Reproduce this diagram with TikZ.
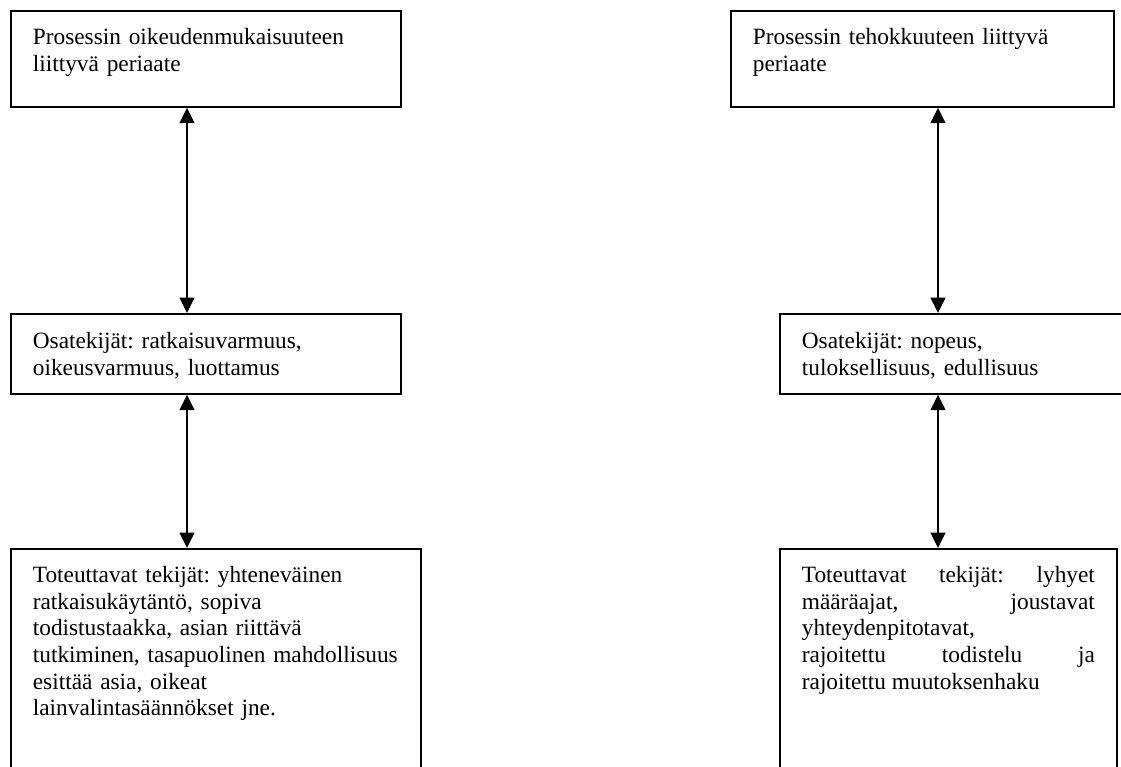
\documentclass[tikz,border=0pt]{standalone}
\usepackage{fontspec}
\setmainfont{Liberation Serif}
\usetikzlibrary{arrows.meta}
\hyphenpenalty=10000
\exhyphenpenalty=10000
\frenchspacing

\begin{document}
\begin{tikzpicture}[x=0.75pt, y=-0.75pt, line width=1.3pt,
    box/.style={draw, anchor=north west, inner xsep=16.5pt, inner ysep=0pt, align=left,
        font=\fontsize{17.5pt}{19.9pt}\selectfont},
    link/.style={{Triangle[length=11.5pt,width=11pt]}-{Triangle[length=11.5pt,width=11pt]}}]
        \useasboundingbox (0,0) rectangle (1121,767);
        \clip (0,0) rectangle (1121,767);
        \coordinate (la) at (187,0);
        \coordinate (ra) at (938,0);

        % left column
        \node[box, text width=259.5pt, text height=25.5pt, text depth=46.5pt] (L1) at (10,10)
            {Prosessin oikeudenmukaisuuteen\\liittyvä periaate};
        \node[box, text width=259.5pt, text height=26.25pt, text depth=33.75pt] (L2) at (10,313)
            {Osatekijät: ratkaisuvarmuus,\\oikeusvarmuus, luottamus};
        \node[box, text width=274.5pt, text height=25.5pt, text depth=225pt] (L3) at (10,548)
            {Toteuttavat tekijät: yhteneväinen\\ratkaisukäytäntö, sopiva\\todistustaakka, asian riittävä\\tutkiminen, tasapuolinen mahdollisuus\\esittää asia, oikeat\\lainvalintasäännökset jne.};

        % right column
        \node[box, text width=254.25pt, text height=25.5pt, text depth=46.5pt] (R1) at (730,10)
            {Prosessin tehokkuuteen liittyvä\\periaate};
        \node[box, text width=234pt, text height=26.25pt, text depth=33.75pt] (R2) at (779,313)
            {Osatekijät: nopeus,\\tuloksellisuus, edullisuus};
        \node[box, align=justify, text width=219.75pt, text height=25.5pt, text depth=225pt] (R3) at (779,548)
            {Toteuttavat tekijät: lyhyet\linebreak määräajat, joustavat\linebreak yhteydenpitotavat,\newline rajoitettu todistelu ja\linebreak rajoitettu muutoksenhaku};

        \draw[link] (L1.south -| la) -- (L2.north -| la);
        \draw[link] (L2.south -| la) -- (L3.north -| la);
        \draw[link] (R1.south -| ra) -- (R2.north -| ra);
        \draw[link] (R2.south -| ra) -- (R3.north -| ra);
\end{tikzpicture}
\end{document}
